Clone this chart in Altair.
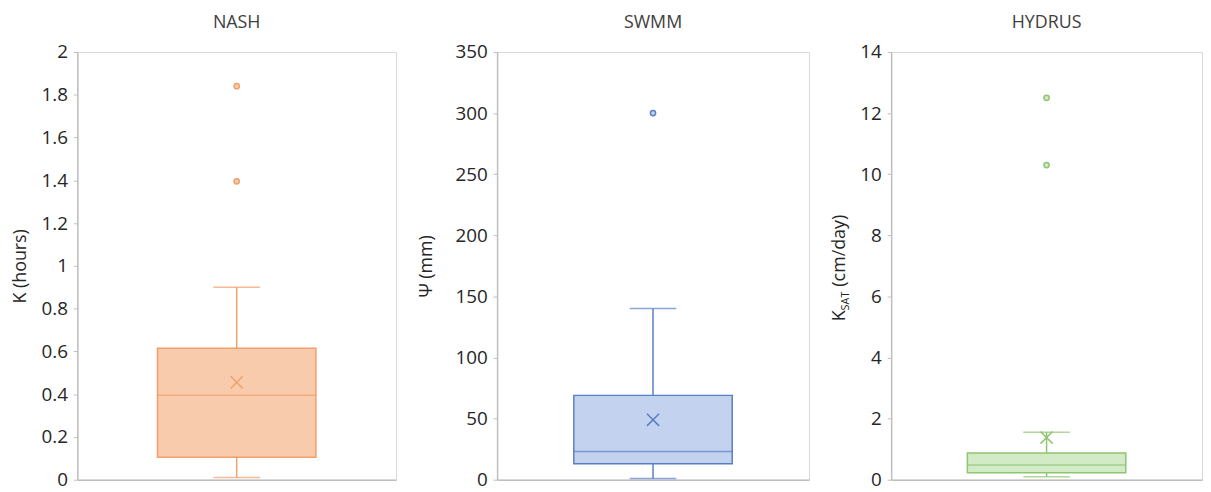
import altair as alt
import pandas as pd

# ---- data ----
models = ["NASH", "SWMM", "HYDRUS"]
mins = [0.01, 1.0, 0.10]
q1s = [0.105, 13.0, 0.23]
medians = [0.395, 23.0, 0.48]
q3s = [0.615, 69.0, 0.875]
maxs = [0.90, 140.0, 1.55]
means = [0.455, 49.0, 1.38]
outlier_values = [[1.84, 1.395], [300.0], [12.5, 10.3]]

y_domains = [[0, 2], [0, 350], [0, 14]]
y_ticks = [
    [0, 0.2, 0.4, 0.6, 0.8, 1, 1.2, 1.4, 1.6, 1.8, 2],
    [0, 50, 100, 150, 200, 250, 300, 350],
    [0, 2, 4, 6, 8, 10, 12, 14],
]
y_titles = ["K (hours)", "Ψ (mm)", None]

stroke_colors = ["#F0A06A", "#5A7FC6", "#8FC472"]
fill_colors = ["#F8CBAD", "#C3D2EE", "#D3EAC7"]

widths = [322, 315, 314]
title_x = [-52, -66, -47]
HEIGHT = 432
FONT = "Open Sans"

X_PATH = "M-1,-1L1,1M-1,1L1,-1"


def panel(i):
    m = models[i]
    stats = pd.DataFrame({
        "model": [m], "min": [mins[i]], "q1": [q1s[i]], "median": [medians[i]],
        "q3": [q3s[i]], "max": [maxs[i]], "mean": [means[i]],
    })
    outs = pd.DataFrame({"model": [m] * len(outlier_values[i]), "value": outlier_values[i]})

    sc = stroke_colors[i]
    fc = fill_colors[i]

    yscale = alt.Scale(domain=y_domains[i], nice=False, zero=True)
    axis_kwargs = dict(
        values=y_ticks[i], format=".4~g", grid=False,
        labelFontSize=19, labelFont=FONT, labelColor="#262626", labelPadding=6,
        tickColor="#BFBFBF", tickSize=4, domainColor="#BFBFBF", domainWidth=1.5,
    )
    if y_titles[i] is not None:
        axis_kwargs.update(
            title=y_titles[i], titleFont=FONT, titleFontSize=18, titleFontWeight="normal",
            titleColor="#262626", titleX=title_x[i], titleY=HEIGHT / 2,
            titleAngle=270, titleBaseline="alphabetic", titleAlign="center",
        )
    else:
        axis_kwargs.update(title=None)
    yaxis = alt.Axis(**axis_kwargs)

    xenc = alt.X("model:N", axis=alt.Axis(title=None, labels=False, ticks=False,
                                          domainColor="#BFBFBF", domainWidth=1.5))

    base = alt.Chart(stats)

    lower = base.mark_rule(color=sc, strokeWidth=1.5).encode(
        x=xenc, y=alt.Y("min:Q", scale=yscale, axis=yaxis), y2="q1:Q")
    upper = base.mark_rule(color=sc, strokeWidth=1.5).encode(
        x=xenc, y=alt.Y("q3:Q", scale=yscale), y2="max:Q")
    box = base.mark_bar(size=160, fill=fc, stroke=sc, strokeWidth=1.5).encode(
        x=xenc, y=alt.Y("q1:Q", scale=yscale), y2="q3:Q")
    med = base.mark_tick(size=160, thickness=1.5, color=sc).encode(
        x=xenc, y=alt.Y("median:Q", scale=yscale))
    cap_lo = base.mark_tick(size=47, thickness=1.5, color=sc).encode(
        x=xenc, y=alt.Y("min:Q", scale=yscale))
    cap_hi = base.mark_tick(size=47, thickness=1.5, color=sc).encode(
        x=xenc, y=alt.Y("max:Q", scale=yscale))
    mean_pt = base.mark_point(shape=X_PATH, filled=False, size=150, strokeWidth=1.5,
                              color=sc, opacity=1).encode(
        x=xenc, y=alt.Y("mean:Q", scale=yscale))
    out_pt = alt.Chart(outs).mark_point(shape="circle", filled=True, size=28,
                                        fill=fc, stroke=sc, strokeWidth=1.5,
                                        opacity=1).encode(
        x=xenc, y=alt.Y("value:Q", scale=yscale))

    layers = [box, lower, upper, med, cap_lo, cap_hi, mean_pt, out_pt]

    if y_titles[i] is None:
        # K_SAT (cm/day) with a subscript, built from text pieces
        tk = dict(angle=270, align="left", baseline="alphabetic", font=FONT,
                  color="#262626")
        y0 = HEIGHT / 2 + 56
        t1 = base.mark_text(text="K", fontSize=18, **tk).encode(
            x=alt.value(title_x[i]), y=alt.value(y0))
        t2 = base.mark_text(text="SAT", fontSize=11, **tk).encode(
            x=alt.value(title_x[i] + 4), y=alt.value(y0 - 11))
        t3 = base.mark_text(text="(cm/day)", fontSize=18, **tk).encode(
            x=alt.value(title_x[i]), y=alt.value(y0 - 35))
        layers += [t1, t2, t3]

    return alt.layer(*layers).properties(
        width=widths[i], height=HEIGHT,
        title=alt.TitleParams(m, font=FONT, fontSize=18, fontWeight="normal",
                              color="#404040", frame="group", anchor="middle",
                              offset=11),
    )


chart = alt.hconcat(*[panel(i) for i in range(3)], spacing=20).properties(
    padding={"left": 3, "top": 3, "right": 0, "bottom": 0}
).configure_view(stroke="#D9D9D9", strokeWidth=1)

chart.save("out.html", embed_options={"renderer": "svg", "actions": False})
